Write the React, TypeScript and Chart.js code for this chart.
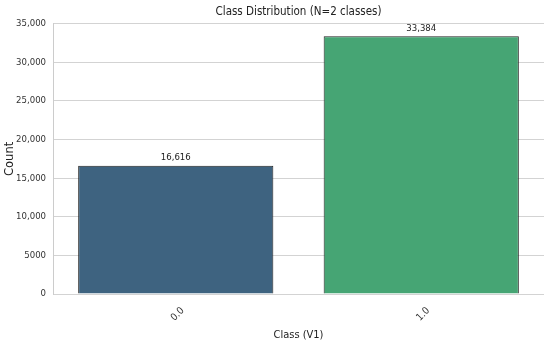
import React, { useEffect, useRef } from "react";
import { Chart, registerables } from "chart.js";

Chart.register(...registerables);

const categories = ["0.0", "1.0"];
const counts = [16616, 33384];
const barColors = ["#3e6380", "#46a574"];
const yTicks = [0, 5000, 10000, 15000, 20000, 25000, 30000, 35000];

const FONT = "'DejaVu Sans', sans-serif";
const CFONT = "'DejaVu Sans Condensed', 'DejaVu Sans', sans-serif";

const fmt = (v: number) => (v >= 10000 ? v.toLocaleString("en-US") : String(v));

const valueLabels = {
  id: "valueLabels",
  afterDatasetsDraw(chart: any) {
    const ctx = chart.ctx;
    const meta = chart.getDatasetMeta(0);
    ctx.save();
    ctx.font = `9.5px ${CFONT}`;
    ctx.fillStyle = "#222";
    ctx.textAlign = "center";
    ctx.textBaseline = "bottom";
    meta.data.forEach((el: any, i: number) => {
      ctx.fillText(counts[i].toLocaleString("en-US"), el.x, el.y - 3);
    });
    ctx.restore();
  },
};

export default function App() {
  const ref = useRef<HTMLCanvasElement>(null);
  useEffect(() => {
    document.body.style.margin = "0";
    const chart = new Chart(ref.current!, {
      type: "bar",
      data: {
        labels: categories,
        datasets: [
          {
            data: counts,
            backgroundColor: barColors,
            borderColor: "#222222",
            borderWidth: 1,
            barPercentage: 0.795,
            categoryPercentage: 1.0,
          },
        ],
      },
      options: {
        animation: false,
        responsive: false,
        layout: { padding: { left: 0, right: 6, top: 0, bottom: 0 } },
        plugins: {
          legend: { display: false },
          tooltip: { enabled: false },
          title: {
            display: true,
            fullSize: false,
            text: "Class Distribution (N=2 classes)",
            color: "#222",
            font: { family: CFONT, size: 11.5, weight: "normal" },
            padding: { top: 5, bottom: 5 },
          },
        },
        scales: {
          x: {
            grid: { display: false },
            border: { display: false },
            ticks: {
              color: "#333",
              font: { family: CFONT, size: 10 },
              minRotation: 45,
              maxRotation: 45,
              labelOffset: 7,
              padding: 3,
            },
            title: {
              display: true,
              text: "Class (V1)",
              color: "#222",
              font: { family: CFONT, size: 11 },
              padding: { top: 0, bottom: 3 },
            },
            afterFit: (s: any) => {
              s.height = 51;
            },
          },
          y: {
            min: 0,
            max: 35000,
            afterBuildTicks: (s: any) => {
              s.ticks = yTicks.map((v) => ({ value: v }));
            },
            grid: { color: "#d3d3d3", drawTicks: false, lineWidth: 1 },
            border: { display: true, color: "#cccccc" },
            ticks: {
              color: "#333",
              font: { family: CFONT, size: 9.5 },
              padding: 7,
              callback: (v: any) => fmt(Number(v)),
            },
            title: {
              display: true,
              text: "Count",
              color: "#222",
              font: { family: FONT, size: 11.5 },
              padding: { top: 3, bottom: 2 },
            },
            afterFit: (s: any) => {
              s.width = 53;
            },
          },
        },
      },
      plugins: [valueLabels],
    });
    return () => chart.destroy();
  }, []);
  return (
    <div style={{ width: 550, height: 345 }}>
      <canvas ref={ref} width={550} height={345} style={{ display: "block" }} />
    </div>
  );
}
